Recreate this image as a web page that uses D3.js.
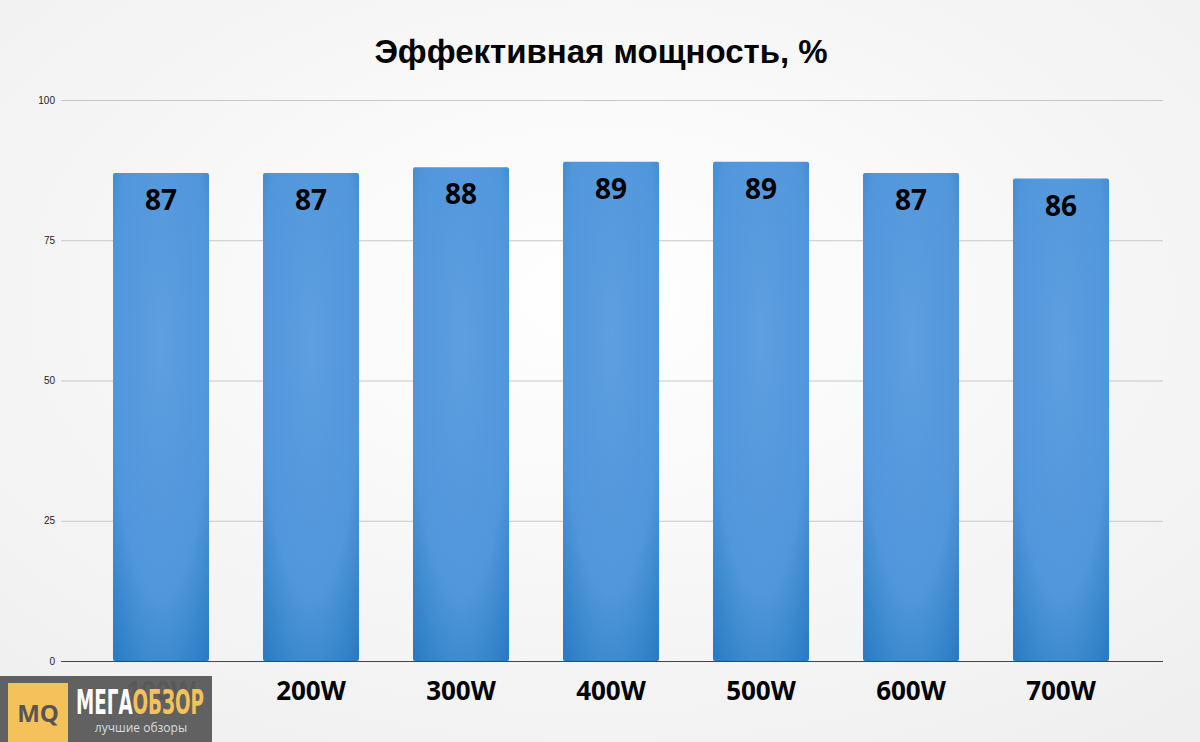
<!DOCTYPE html>
<html><head><meta charset="utf-8">
<script src="https://cdn.jsdelivr.net/npm/d3@7"></script>
<style>body{margin:0;}svg{display:block;font-family:"Open Sans",sans-serif;}</style>
</head><body>
<script>
var categories = ["100W","200W","300W","400W","500W","600W","700W"];
var values = [87,87,88,89,89,87,86];
var yTicks = [0,25,50,75,100];

var W = 1200, H = 742;
var svg = d3.select("body").append("svg").attr("width", W).attr("height", H);
var defs = svg.append("defs");
var bg = defs.append("radialGradient").attr("id","bg").attr("cx","50%").attr("cy","40%").attr("r","75%");
bg.append("stop").attr("offset","0%").attr("stop-color","#ffffff");
bg.append("stop").attr("offset","100%").attr("stop-color","#efefef");
var bar = defs.append("radialGradient").attr("id","bar").attr("cx","50%").attr("cy","35%").attr("r","80%");
bar.append("stop").attr("offset","0%").attr("stop-color","#5d9fe0");
bar.append("stop").attr("offset","65%").attr("stop-color","#5096da");
bar.append("stop").attr("offset","100%").attr("stop-color","#2a7bc4");

svg.append("rect").attr("width",W).attr("height",H).attr("fill","url(#bg)");

svg.append("text").attr("x",601).attr("y",63).attr("text-anchor","middle")
  .attr("font-family","'Liberation Sans',Arial,sans-serif")
  .attr("font-size",33).attr("font-weight","bold").attr("fill","#000").text("Эффективная мощность, %");

var x = d3.scaleBand().domain(categories).range([86,1136]).paddingInner(0.36).paddingOuter(0.18);
var y = d3.scaleLinear().domain([0,100]).range([661,100]);

var grid = svg.append("g").attr("transform","translate(61,0)")
  .call(d3.axisLeft(y).tickValues(yTicks).tickSize(-1102).tickPadding(6));
grid.select(".domain").remove();
grid.selectAll(".tick line").attr("stroke","#c8c8c8");
grid.selectAll(".tick text").attr("font-size",10).attr("fill","#222");
grid.selectAll(".tick").filter(function(d){return d===0;}).select("line").attr("stroke","#444");

svg.selectAll(".bar").data(values).enter().append("rect")
  .attr("x",function(d,i){return x(categories[i]);})
  .attr("y",function(d){return y(d);})
  .attr("width",x.bandwidth())
  .attr("height",function(d){return y(0)-y(d);})
  .attr("rx",2).attr("fill","url(#bar)");

svg.selectAll(".lbl").data(values).enter().append("text")
  .attr("x",function(d,i){return x(categories[i])+x.bandwidth()/2;})
  .attr("y",function(d){return y(d)+37;})
  .attr("text-anchor","middle").attr("font-size",28).attr("font-weight","bold").attr("fill","#000")
  .text(function(d){return d;});

svg.selectAll(".cat").data(categories).enter().append("text")
  .attr("x",function(d){return x(d)+x.bandwidth()/2;})
  .attr("y",700).attr("text-anchor","middle").attr("font-size",26).attr("font-weight","bold").attr("fill","#000")
  .text(function(d){return d;});

// logo
var logo = svg.append("g");
logo.append("rect").attr("x",0).attr("y",676).attr("width",212).attr("height",66).attr("fill","#5c5c5c").attr("opacity",0.97);
logo.append("rect").attr("x",8).attr("y",683).attr("width",60).attr("height",59).attr("fill","#f5c15a");
logo.append("text").attr("x",38).attr("y",722).attr("text-anchor","middle").attr("font-size",24).attr("font-weight","bold").attr("fill","#555").text("MQ");
var t = logo.append("text").attr("x",76).attr("y",714).attr("font-family","'Liberation Sans Narrow','DejaVu Sans Condensed',sans-serif")
  .attr("font-size",34).attr("font-weight","bold").attr("textLength",128).attr("lengthAdjust","spacingAndGlyphs");
t.append("tspan").attr("fill","#fff").text("МЕГА");
t.append("tspan").attr("fill","#f5c15a").text("ОБЗОР");
logo.append("text").attr("x",141).attr("y",732).attr("text-anchor","middle").attr("font-size",12).attr("fill","#ddd").text("лучшие обзоры");
</script>
</body></html>
